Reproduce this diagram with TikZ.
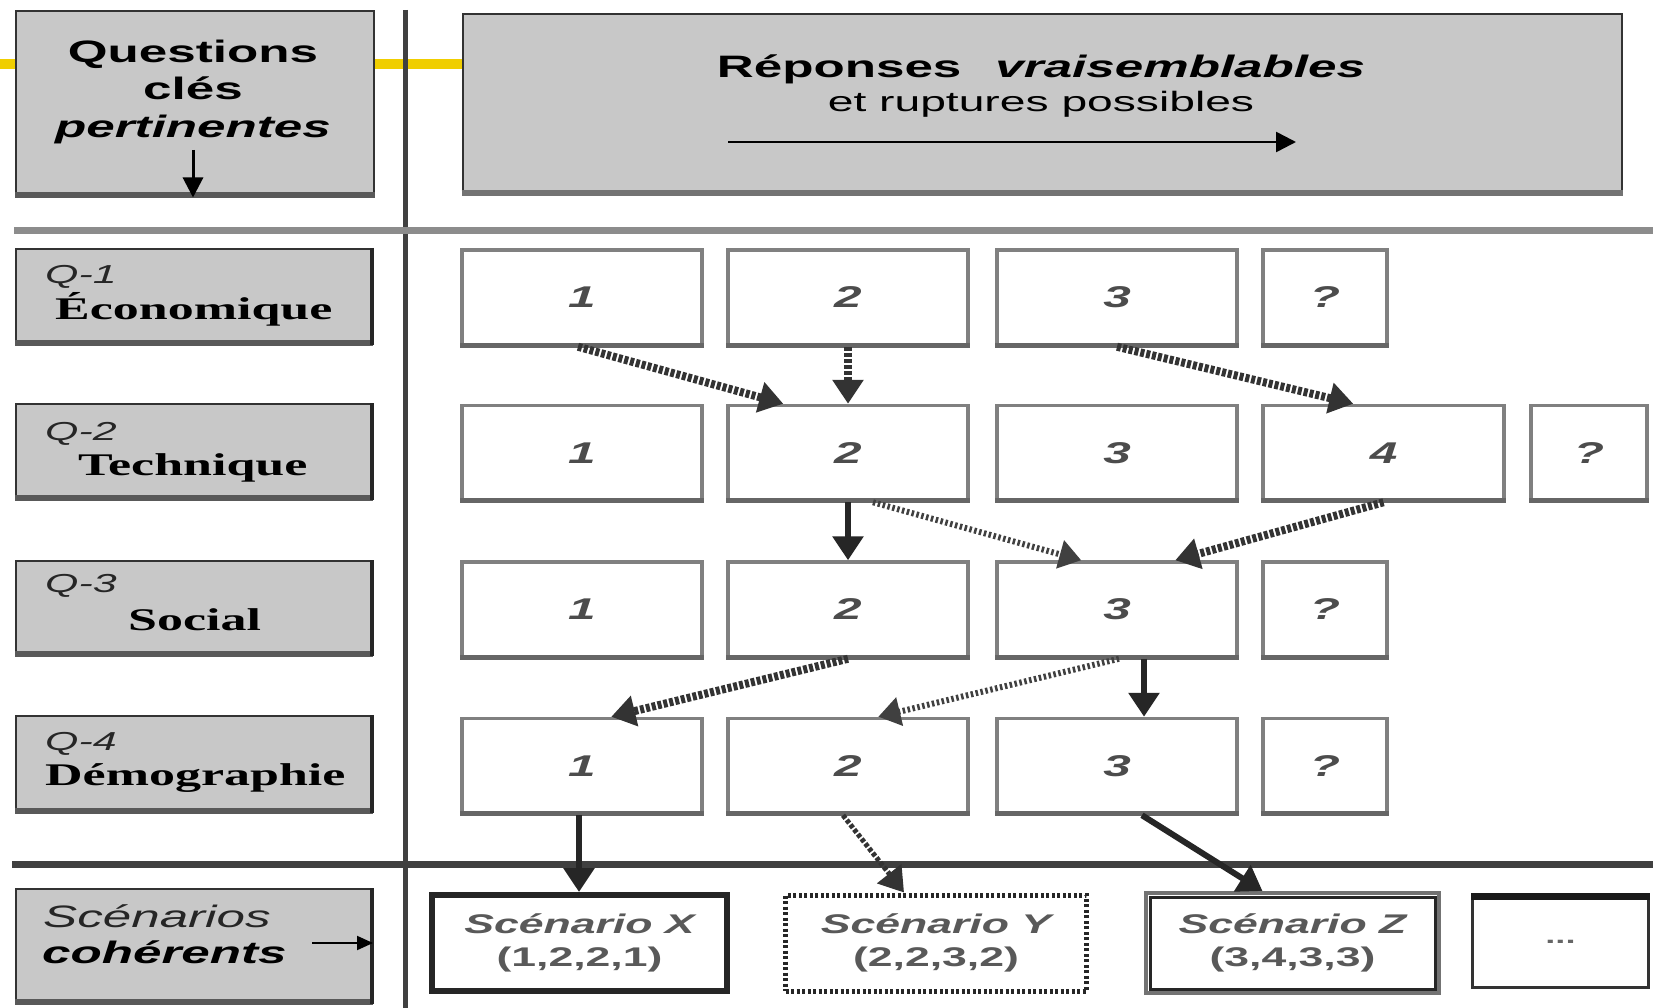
\documentclass[tikz,border=0pt]{standalone}
\usepackage{fontspec}
\setmainfont{Liberation Serif}
\newfontfamily\widesans{Liberation Sans}[FakeStretch=1.65]
\newfontfamily\wideserif{Liberation Serif}[FakeStretch=1.65]
\usetikzlibrary{arrows.meta}

\definecolor{panel}{HTML}{C8C8C8}
\definecolor{ribbon}{HTML}{F0CE00}

\tikzset{
  panelbox/.style={draw=black!80, line width=2pt, fill=panel, inner sep=0pt},
  ansbox/.style={draw=black!50, line width=3.5pt, fill=white, inner sep=0pt,
    minimum height=95pt, text=black!70,
    font=\widesans\bfseries\itshape\fontsize{30pt}{30pt}\selectfont},
  panelshade/.style={draw=black!65, line width=6pt},
  ansshade/.style={draw=black!60, line width=5pt},
  headtxt/.style={anchor=base, inner sep=0pt,
    font=\widesans\bfseries\fontsize{31pt}{31pt}\selectfont},
  qtxt/.style={anchor=base west, inner sep=0pt, text=black!85,
    font=\widesans\itshape\fontsize{26pt}{26pt}\selectfont},
  wtxt/.style={anchor=base west, inner sep=0pt,
    font=\wideserif\bfseries\fontsize{31.5pt}{31.5pt}\selectfont},
  scbox/.style={fill=white, inner sep=0pt, align=center, text=black!65,
    minimum height=96pt,
    font=\widesans\bfseries\itshape\fontsize{27pt}{33pt}\selectfont},
  hatcharrow/.style={draw=black!80, line width=8pt, dash pattern=on 4pt off 2pt,
    -{Triangle[width=30pt,length=24pt]}},
  solidarrow/.style={draw=black!85, line width=6pt,
    -{Triangle[width=30pt,length=24pt]}},
  dotarrow/.style={draw=black!75, line width=6pt, dash pattern=on 2.5pt off 2.5pt,
    -{Triangle[width=28pt,length=22pt]}},
  thinarrow/.style={draw=black, line width=3pt,
    -{Triangle[width=20pt,length=20pt]}},
}

\begin{document}
\begin{tikzpicture}[x=1pt, y=-1pt]
\useasboundingbox[fill=white] (0,0) rectangle (1653,1008);

% yellow ribbon behind the header boxes
\coordinate (rb0) at (0,64);
\coordinate (rb1) at (470,64);
\draw[ribbon, line width=10pt] (rb0) -- (rb1);

% grid rules
\coordinate (vr0) at (405,10);
\coordinate (vr1) at (405,1008);
\draw[black!75, line width=5pt] (vr0) -- (vr1);
\coordinate (tr0) at (14,231);
\coordinate (tr1) at (1653,231);
\draw[black!45, line width=7pt] (tr0) -- (tr1);
\coordinate (br0) at (12,864);
\coordinate (br1) at (1653,864);
\draw[black!75, line width=7pt] (br0) -- (br1);

% header boxes
\node[panelbox, minimum width=358pt, minimum height=185pt] (hl) at (195,104) {};
\draw[panelshade] ([yshift=2pt]hl.south west) -- ([yshift=2pt]hl.south east);
\node[headtxt] (hq1) at (193,63) {Questions};
\node[headtxt] (hq2) at (193,100) {clés};
\node[headtxt] (hq3) at (193,138) {\itshape pertinentes};
\coordinate (qa0) at (193,150);
\draw[thinarrow] (qa0) -- (qa0 |- hl.south);

\node[panelbox, minimum width=1159pt, minimum height=180pt] (hr) at (1042,104) {};
\draw[panelshade, draw=black!55] ([yshift=2pt]hr.south west) -- ([yshift=2pt]hr.south east);
\node[headtxt] (ht1) at (1041,78) {Réponses\hspace{34pt}\itshape vraisemblables};
\node[headtxt, font=\widesans\fontsize{28pt}{28pt}\selectfont] (ht2) at (1041,112) {et ruptures possibles};
\coordinate (ha0) at (728,142);
\coordinate (ha1) at (1296,142);
\draw[thinarrow, line width=2.5pt] (ha0) -- (ha1);

% question labels
\node[panelbox, minimum width=356pt, minimum height=95pt] (lq1) at (194,296.5) {};
\node[panelbox, minimum width=356pt, minimum height=95pt] (lq2) at (194,451.5) {};
\node[panelbox, minimum width=356pt, minimum height=94pt] (lq3) at (194,608) {};
\node[panelbox, minimum width=356pt, minimum height=96pt] (lq4) at (194,764) {};
\node[panelbox, minimum width=356pt, minimum height=114pt] (lsc) at (194,946) {};
\foreach \n in {lq1,lq2,lq3,lq4,lsc}{
  \draw[panelshade] ([yshift=2pt]\n.south west) -- ([yshift=2pt]\n.south east);
  \draw[black!85, line width=4pt] ([xshift=-1pt]\n.north east) -- ([xshift=-1pt]\n.south east);
}

\node[qtxt] (q1a) at (45,283) {Q-1};
\node[wtxt] (q1b) at (55,319) {Économique};
\node[qtxt] (q2a) at (45,440) {Q-2};
\node[wtxt] (q2b) at (78,475) {Technique};
\node[qtxt] (q3a) at (45,592) {Q-3};
\node[wtxt] (q3b) at (128,630) {Social};
\node[qtxt] (q4a) at (45,750) {Q-4};
\node[wtxt] (q4b) at (45,785) {Démographie};
\node[qtxt, font=\widesans\itshape\fontsize{31pt}{31pt}\selectfont] (s1) at (43,927) {Scénarios};
\node[qtxt, text=black, font=\widesans\bfseries\itshape\fontsize{31pt}{31pt}\selectfont] (s2) at (42,963) {cohérents};
\coordinate (sa0) at (312,943);
\draw[thinarrow, line width=2pt, -{Triangle[width=14pt,length=16pt]}] (sa0) -- (sa0 -| lsc.east);

% answer boxes
\node[ansbox, minimum width=240pt] (r1c1) at (582,297.5) {1};
\node[ansbox, minimum width=240pt] (r1c2) at (848,297.5) {2};
\node[ansbox, minimum width=240pt] (r1c3) at (1117,297.5) {3};
\node[ansbox, minimum width=124pt] (r1c4) at (1325,297.5) {?};

\node[ansbox, minimum width=240pt] (r2c1) at (582,453) {1};
\node[ansbox, minimum width=240pt] (r2c2) at (848,453) {2};
\node[ansbox, minimum width=240pt] (r2c3) at (1117,453) {3};
\node[ansbox, minimum width=241pt] (r2c4) at (1383.5,453) {4};
\node[ansbox, minimum width=116pt] (r2c5) at (1589,453) {?};

\node[ansbox, minimum width=240pt] (r3c1) at (582,609.5) {1};
\node[ansbox, minimum width=240pt] (r3c2) at (848,609.5) {2};
\node[ansbox, minimum width=240pt] (r3c3) at (1117,609.5) {3};
\node[ansbox, minimum width=124pt] (r3c4) at (1325,609.5) {?};

\node[ansbox, minimum width=240pt] (r4c1) at (582,766) {1};
\node[ansbox, minimum width=240pt] (r4c2) at (848,766) {2};
\node[ansbox, minimum width=240pt] (r4c3) at (1117,766) {3};
\node[ansbox, minimum width=124pt] (r4c4) at (1325,766) {?};

\foreach \n in {r1c1,r1c2,r1c3,r1c4,r2c1,r2c2,r2c3,r2c4,r2c5,r3c1,r3c2,r3c3,r3c4,r4c1,r4c2,r4c3,r4c4}{
  \draw[ansshade] ([yshift=1.5pt]\n.south west) -- ([yshift=1.5pt]\n.south east);
}

% coherent scenarios
\node[scbox, draw=black!85, line width=6pt, minimum width=295pt] (scX) at (579.5,943) {Scénario X\\\upshape(1,2,2,1)};
\node[scbox, draw=black!85, line width=5pt, dash pattern=on 3pt off 2.5pt, minimum width=301pt] (scY) at (936,943) {Scénario Y\\\upshape(2,2,3,2)};
\node[scbox, draw=black!55, line width=4pt, minimum width=293pt, minimum height=100pt] (scZ) at (1292.5,943) {Scénario Z\\\upshape(3,4,3,3)};
\draw[black!85, line width=3pt] ([shift={(6pt,-6pt)}]scZ.north west) rectangle ([shift={(-6pt,6pt)}]scZ.south east);
\node[fill=white, draw=black!80, line width=3pt, minimum width=176pt, minimum height=92pt,
  inner sep=0pt, text=black!60, font=\widesans\bfseries\fontsize{22pt}{22pt}\selectfont] (scN) at (1560.5,941.5) {...};
\draw[black!90, line width=7pt] ([yshift=-2pt]scN.north west) -- ([yshift=-2pt]scN.north east);

% paths from answer to answer
\draw[hatcharrow] ([xshift=-4pt]r1c1.south) -- ([xshift=57pt]r2c2.north west);
\draw[hatcharrow] (r1c2.south) -- (r2c2.north);
\draw[hatcharrow] (r1c3.south) -- ([xshift=92pt]r2c4.north west);

\draw[solidarrow] (r2c2.south) -- (r3c2.north);
\draw[dotarrow] ([xshift=25pt]r2c2.south) -- ([xshift=86pt]r3c3.north west);
\draw[hatcharrow] (r2c4.south) -- ([xshift=180pt]r3c3.north west);

\draw[hatcharrow] (r3c2.south) -- ([xshift=151pt]r4c1.north west);
\draw[dotarrow] ([xshift=2pt]r3c3.south) -- ([xshift=152pt]r4c2.north west);
\draw[solidarrow] ([xshift=27pt]r3c3.south) -- ([xshift=27pt]r4c3.north);

\draw[solidarrow] ([xshift=-3pt]r4c1.south) -- ([xshift=-3pt]r4c1.south |- scX.north);
\draw[hatcharrow, line width=5pt] ([xshift=-5pt]r4c2.south) -- ([xshift=-32pt]scY.north);
\draw[solidarrow] ([xshift=25pt]r4c3.south) -- ([xshift=-30pt]scZ.north);
\end{tikzpicture}
\end{document}
